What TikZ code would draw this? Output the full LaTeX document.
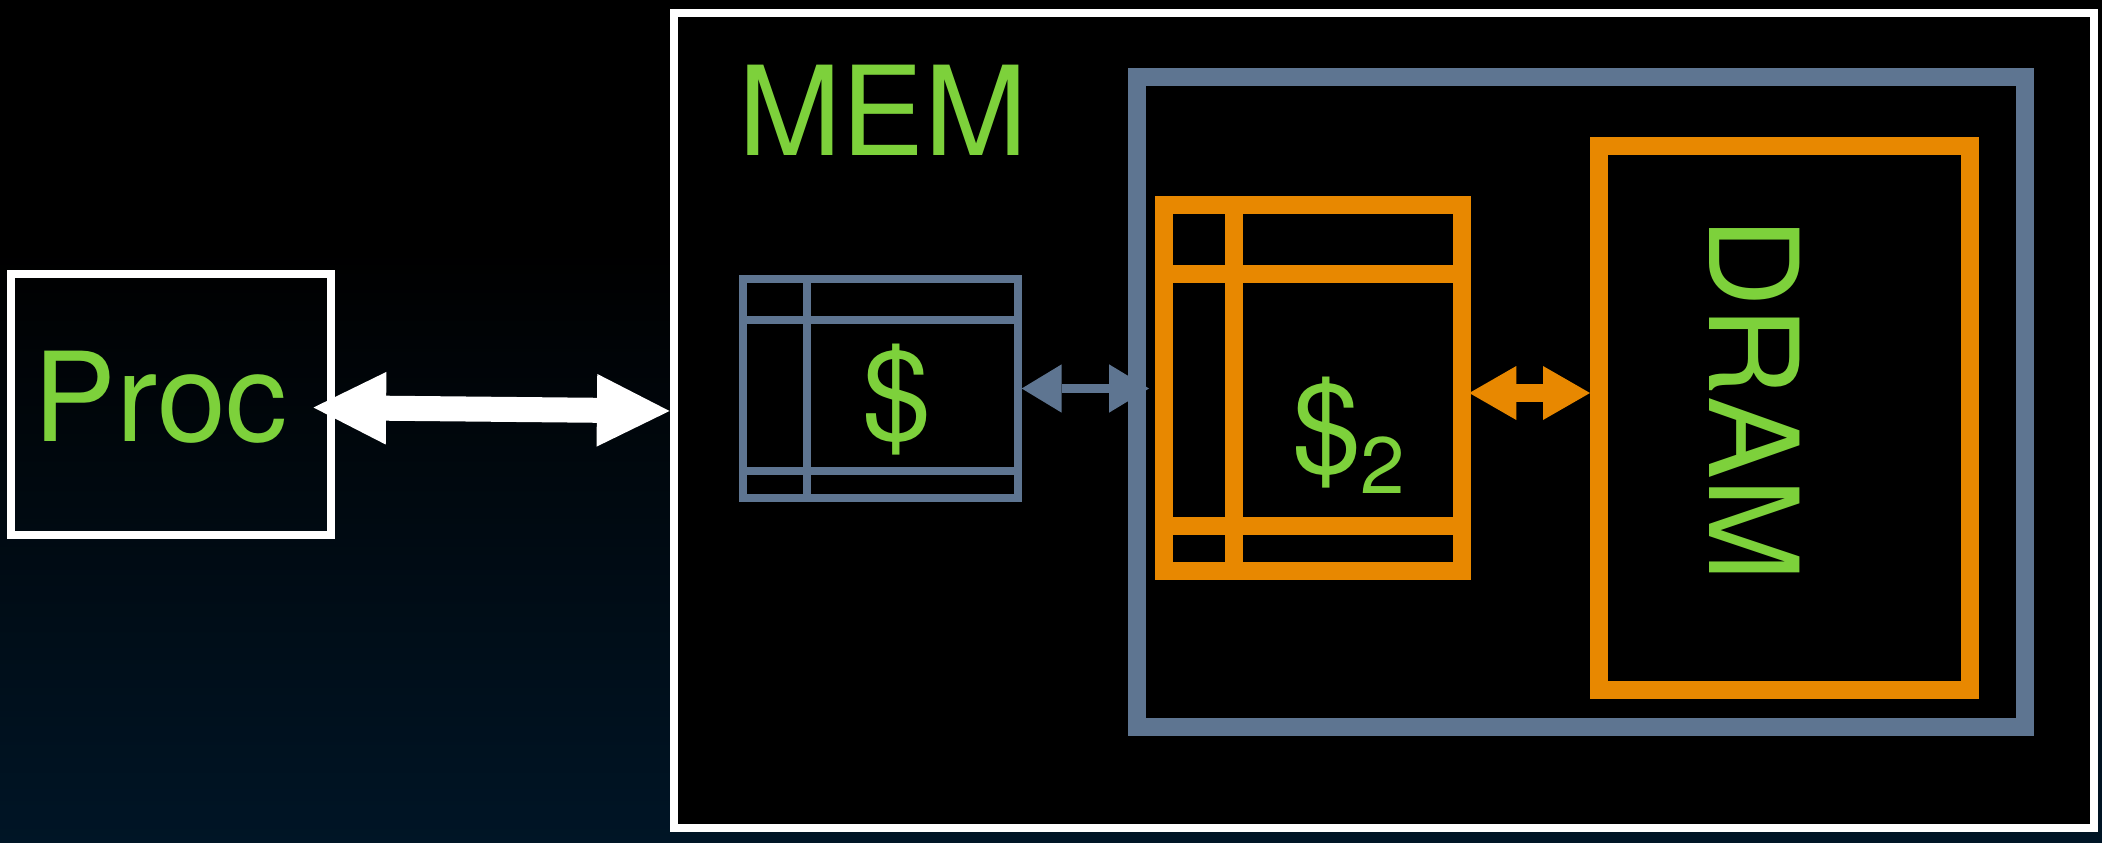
\documentclass[tikz,border=0pt]{standalone}
\usepackage{fontspec}
\setmainfont{TeX Gyre Heros}
\usetikzlibrary{arrows.meta,calc}
\definecolor{labgreen}{RGB}{125,209,59}
\definecolor{memorange}{RGB}{232,136,0}
\definecolor{slate}{RGB}{94,117,145}
\definecolor{bgbottom}{RGB}{0,21,38}
\begin{document}
\begin{tikzpicture}[x=1pt,y=-1pt,
  box/.style={draw, rectangle, inner sep=0pt, outer sep=0pt},
  label/.style={inner sep=0pt, outer sep=0pt, text=labgreen, font=\fontsize{124pt}{124pt}\selectfont},
  grid/.style={line width=#1},
  whitearrow/.style={draw=white, line width=25pt,
    {Triangle[length=72.6pt,width=72.7pt,line width=0pt]}-{Triangle[length=72.6pt,width=72.7pt,line width=0pt]}},
  slatearrow/.style={draw=slate, line width=8.3pt,
    {Triangle[length=40pt,width=48.4pt,line width=0pt]}-{Triangle[length=40pt,width=48.4pt,line width=0pt]}},
  orangearrow/.style={draw=memorange, line width=18pt,
    {Triangle[length=47pt,width=54pt,line width=0pt]}-{Triangle[length=47pt,width=54pt,line width=0pt]}}
]
\useasboundingbox (0,0) rectangle (2102,843);
\fill[black] (0,0) rectangle (2102,251);
\shade[top color=black, bottom color=bgbottom] (0,250) rectangle (2102,843);

% boxes
\node[box, draw=white, line width=8pt, minimum width=320pt, minimum height=260.5pt] (proc) at (171,404.25) {};
\node[box, draw=white, fill=black, line width=8pt, minimum width=1419.5pt, minimum height=814.7pt] (mem) at (1383.75,420.65) {};
\node[box, draw=slate, line width=18pt, minimum width=888.5pt, minimum height=649.5pt] (grp) at (1580.75,402.25) {};
\node[box, draw=slate, line width=8pt, minimum width=274.5pt, minimum height=219.6pt] (c1) at (880.25,388.5) {};
\node[box, draw=memorange, line width=18pt, minimum width=297.5pt, minimum height=366pt] (c2) at (1312.75,388) {};
\node[box, draw=memorange, line width=18pt, minimum width=370.6pt, minimum height=544pt] (dram) at (1784.3,418) {};

% cache grids
\draw[slate, grid=8pt] ($(c1.north west)+(0,41.3)$) -- ($(c1.north east)+(0,41.3)$);
\draw[slate, grid=8pt] ($(c1.south west)+(0,-27.3)$) -- ($(c1.south east)+(0,-27.3)$);
\draw[slate, grid=8pt] ($(c1.north west)+(64,0)$) -- ($(c1.south west)+(64,0)$);
\draw[memorange, grid=18pt] ($(c2.north west)+(0,69)$) -- ($(c2.north east)+(0,69)$);
\draw[memorange, grid=18pt] ($(c2.south west)+(0,-45)$) -- ($(c2.south east)+(0,-45)$);
\draw[memorange, grid=18pt] ($(c2.north west)+(69.5,0)$) -- ($(c2.south west)+(69.5,0)$);

% labels
\node[label, anchor=base west] (proctext) at (33.5,441) {Proc};
\node[label, anchor=base west] (memtext) at (738,155) {MEM};
\node[label, anchor=base west] (c1text) at (862,439) {\$};
\node[label, anchor=base west] (c2text) at (1292,472) {\$\raisebox{-21pt}{\fontsize{80pt}{80pt}\selectfont 2}};
\node[label, anchor=base west, rotate=-90] (dramtext) at (1709,217) {DRAM};

% connectors
\draw[whitearrow] ($(proc.east)+(-17.5,3.25)$) -- ($(mem.west)+(-4.5,-9.65)$);
\draw[slatearrow] ($(c1.east)+(4.2,0)$) -- ($(c2.west)+(-15,0.5)$);
\draw[orangearrow] ($(c2.east)+(7.8,5)$) -- ($(dram.west)+(-9,-25)$);
\end{tikzpicture}
\end{document}
